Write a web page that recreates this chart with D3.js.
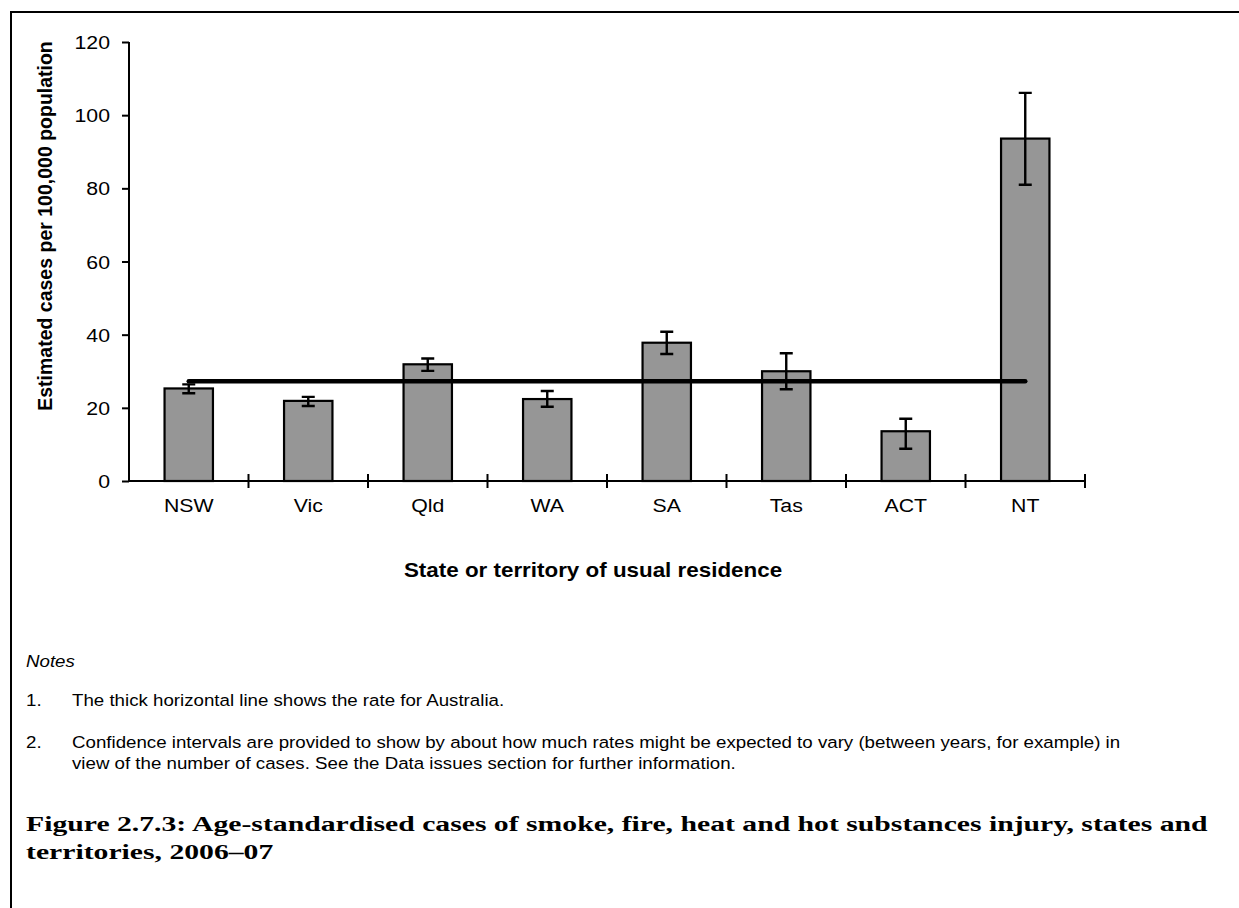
<!DOCTYPE html>
<html>
<head>
<meta charset="utf-8">
<script src="https://cdn.jsdelivr.net/npm/d3@7"></script>
<style>
  html, body { margin: 0; padding: 0; background: #fff; }
  svg { display: block; }
  text { fill: #000; }
</style>
</head>
<body>
<svg id="chart" width="1239" height="908"></svg>
<script>
// Age-standardised rate per 100,000 population, by state/territory
const states = ["NSW", "Vic", "Qld", "WA", "SA", "Tas", "ACT", "NT"];
const rates  = [25.3, 21.9, 31.9, 22.4, 37.8, 30.0, 13.6, 93.6];
const ciLow  = [24.0, 20.5, 30.1, 20.3, 34.7, 25.1, 8.8, 81.0];
const ciHigh = [26.4, 23.0, 33.5, 24.6, 40.8, 34.9, 17.0, 106.1];
const australiaRate = 27.3;
const yTicks = [0, 20, 40, 60, 80, 100, 120];

const notes = [
  ["1.", ["The thick horizontal line shows the rate for Australia."]],
  ["2.", ["Confidence intervals are provided to show by about how much rates might be expected to vary (between years, for example) in",
          "view of the number of cases. See the Data issues section for further information."]]
];
const captionLines = [
  "Figure 2.7.3: Age-standardised cases of smoke, fire, heat and hot substances injury, states and",
  "territories, 2006\u201307"
];

const SANS = "'Liberation Sans', Arial, Helvetica, sans-serif";
const SERIF = "'Liberation Serif', 'DejaVu Serif', serif";
const SX = 1.12; // horizontal widening of the sans text

const svg = d3.select("#chart");

// text placed at (x, y) and widened horizontally around its anchor
function wideText(parent, x, y, str, o = {}) {
  const g = parent.append("g").attr("transform", `translate(${x},${y}) scale(${o.sx || SX},1)`);
  return g.append("text")
    .style("font-family", o.family || SANS)
    .style("font-size", (o.size || 19) + "px")
    .style("font-weight", o.weight || "normal")
    .style("font-style", o.italic ? "italic" : "normal")
    .attr("text-anchor", o.anchor || "start")
    .text(str);
}

// frame: top and left rules
svg.append("path")
  .attr("d", "M11,908V12H1239")
  .attr("fill", "none").attr("stroke", "#000").attr("stroke-width", 2);

const x = d3.scaleBand().domain(states).range([129, 1085]).padding(0);
const y = d3.scaleLinear().domain([0, 120]).range([481, 42]);
const barW = x.bandwidth() * 0.405;
const cx = d => x(d) + x.bandwidth() / 2;

const data = states.map((s, i) => ({ s, v: rates[i], lo: ciLow[i], hi: ciHigh[i] }));

// bars
svg.append("g").selectAll("rect").data(data).join("rect")
  .attr("x", d => cx(d.s) - barW / 2)
  .attr("y", d => y(d.v))
  .attr("width", barW)
  .attr("height", d => y(0) - y(d.v))
  .attr("fill", "#969696")
  .attr("stroke", "#000")
  .attr("stroke-width", 2.2);

// confidence interval whiskers
const capW = 13;
svg.append("g").attr("stroke", "#000").attr("stroke-width", 2.4).attr("fill", "none")
  .selectAll("path").data(data).join("path")
  .attr("d", d => {
    const c = cx(d.s);
    return `M${c},${y(d.lo)}V${y(d.hi)}M${c - capW / 2},${y(d.hi)}H${c + capW / 2}M${c - capW / 2},${y(d.lo)}H${c + capW / 2}`;
  });

// Australian rate line
svg.append("line")
  .attr("x1", cx(states[0])).attr("x2", cx(states[states.length - 1]))
  .attr("y1", y(australiaRate)).attr("y2", y(australiaRate))
  .attr("stroke", "#000").attr("stroke-width", 4.5).attr("stroke-linecap", "round");

// y axis
const yAxis = svg.append("g").attr("transform", "translate(129,0)")
  .call(d3.axisLeft(y).tickValues(yTicks).tickSize(7).tickFormat(d3.format("d")));
yAxis.select(".domain").attr("d", `M0,${y(120)}V${y(0)}`).attr("stroke-width", 2);
yAxis.selectAll(".tick line").attr("stroke-width", 2);
yAxis.selectAll(".tick text")
  .attr("x", 0).attr("dy", "0.35em")
  .attr("transform", `translate(-19,0) scale(${SX},1)`)
  .style("font-family", SANS).style("font-size", "19px").attr("fill", "#000");

// x axis: ticks at category boundaries, crossing the axis
const xg = svg.append("g").attr("transform", `translate(0,${y(0)})`);
xg.append("line").attr("x1", 129).attr("x2", 1085).attr("stroke", "#000").attr("stroke-width", 2);
const bounds = states.slice(1).map(s => x(s)).concat([x.range()[1]]);
xg.selectAll("line.tk").data(bounds).join("line").attr("class", "tk")
  .attr("x1", d => d).attr("x2", d => d).attr("y1", -7).attr("y2", 7)
  .attr("stroke", "#000").attr("stroke-width", 2);
states.forEach(s => wideText(xg, cx(s), 31, s, { anchor: "middle" }));

// axis titles
wideText(svg, 593, 577, "State or territory of usual residence", { size: 20, weight: "bold", anchor: "middle" });
svg.append("text")
  .attr("transform", "translate(52,226) rotate(-90)")
  .attr("text-anchor", "middle")
  .style("font-family", SANS).style("font-size", "19.5px").style("font-weight", "bold")
  .text("Estimated cases per 100,000 population");

// notes
wideText(svg, 26, 667, "Notes", { size: 17, italic: true, sx: 1.1 });
let ny = 706;
notes.forEach(([num, lines]) => {
  wideText(svg, 26, ny, num, { size: 17, sx: 1.1 });
  lines.forEach((ln, j) => wideText(svg, 72, ny + j * 21, ln, { size: 17, sx: 1.1 }));
  ny += 42;
});

// caption, widened so the first line runs to the right margin
const capNodes = captionLines.map((ln, i) =>
  wideText(svg, 26, 831 + i * 28, ln, { family: SERIF, size: 22, weight: "bold", sx: 1 }));
const capScale = 1182 / capNodes[0].node().getComputedTextLength();
capNodes.forEach((n, i) => d3.select(n.node().parentNode)
  .attr("transform", `translate(26,${831 + i * 28}) scale(${capScale},1)`));
</script>
</body>
</html>
